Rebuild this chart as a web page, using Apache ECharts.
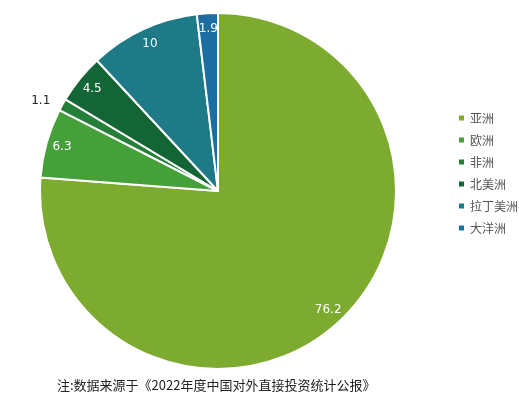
<!DOCTYPE html><html><head><meta charset="utf-8"><script src="https://cdn.jsdelivr.net/npm/echarts@6/dist/echarts.min.js"></script></head><body style="margin:0;background:#fff"><div id="c" style="width:519px;height:405px"></div><script>
const categories=['亚洲','欧洲','非洲','北美洲','拉丁美洲','大洋洲'];
const values=[76.2,6.3,1.1,4.5,10,1.9];
const colors=['#7dab2f','#45a039','#248038','#136535','#1f7a87','#1c6ea0'];
const data=categories.map((n,i)=>({name:n,value:values[i],itemStyle:{color:colors[i]}}));
const labelData=categories.map((n,i)=>{const d={name:n,value:values[i]};if(n==='非洲'){d.label={position:'outside',color:'#222',distance:0};d.labelLine={show:false,length:8,length2:0};}return d;});
const ch=echarts.init(document.getElementById('c'));
ch.setOption({
animation:false,
legend:{orient:'vertical',left:452,top:107,itemWidth:7,itemHeight:7,itemGap:10,icon:'rect',textStyle:{fontSize:12,color:'#555',fontFamily:'Noto Sans CJK SC'},data:categories},
title:{text:'注:数据来源于《2022年度中国对外直接投资统计公报》',left:52,top:374,textStyle:{fontSize:13,fontWeight:'normal',color:'#222',fontFamily:'Noto Sans CJK SC'}},
series:[
{type:'pie',center:[218,191],radius:[0,178],startAngle:90,clockwise:true,label:{show:false},labelLine:{show:false},itemStyle:{borderColor:'#fff',borderWidth:2},data:data,silent:true},
{type:'pie',center:[218,191],radius:[140,178],startAngle:90,clockwise:true,itemStyle:{color:'transparent'},silent:true,
 label:{show:true,position:'inside',formatter:'{c}',color:'#fff',fontSize:12,fontFamily:'DejaVu Sans'},labelLine:{show:false},data:labelData,legendHoverLink:false}
]});
</script></body></html>
